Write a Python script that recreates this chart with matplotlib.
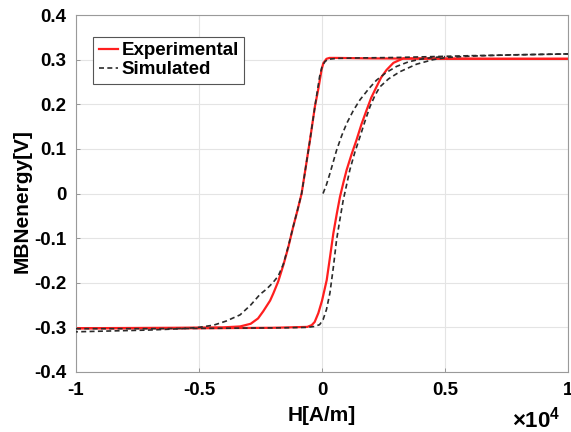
import matplotlib
matplotlib.use("Agg")
import matplotlib.pyplot as plt
from matplotlib.ticker import FuncFormatter

plt.rcParams['font.family'] = ['Liberation Sans', 'DejaVu Sans']
plt.rcParams['font.weight'] = 'bold'
plt.rcParams['mathtext.fontset'] = 'custom'
plt.rcParams['mathtext.rm'] = 'Liberation Sans'
plt.rcParams['mathtext.bf'] = 'Liberation Sans:bold'

# H in units of 1e4 A/m, MBN energy in V
# measured loop: descending branch (from +H to -H)
exp_desc_h = [1.0, 0.5, 0.2, 0.06, 0.03, 0.018, 0.005, -0.002, -0.015, -0.029, -0.049,
              -0.066, -0.083, -0.1, -0.117, -0.137, -0.157, -0.178, -0.198, -0.211,
              -0.225, -0.239, -0.26, -0.29, -0.333, -0.4, -0.6, -1.0]
exp_desc_v = [0.302, 0.302, 0.303, 0.304, 0.304, 0.302, 0.292, 0.277, 0.235, 0.195, 0.12,
              0.06, 0.0, -0.038, -0.074, -0.12, -0.16, -0.197, -0.224, -0.24,
              -0.252, -0.264, -0.28, -0.292, -0.298, -0.3, -0.301, -0.302]
# measured loop: ascending branch (from -H to +H)
exp_asc_h = [-1.0, -0.5, -0.2, -0.06, -0.042, -0.03, -0.015, 0.0, 0.019, 0.033, 0.046,
             0.06, 0.073, 0.087, 0.1, 0.12, 0.14, 0.16, 0.181, 0.2, 0.221, 0.24,
             0.262, 0.29, 0.33, 0.45, 0.7, 1.0]
exp_asc_v = [-0.302, -0.302, -0.301, -0.299, -0.295, -0.288, -0.268, -0.24, -0.194, -0.14, -0.089,
             -0.045, -0.007, 0.025, 0.053, 0.088, 0.12, 0.155, 0.187, 0.215, 0.239, 0.26,
             0.277, 0.293, 0.303, 0.303, 0.302, 0.302]

# model: initial magnetisation curve
sim_init_h = [0.004, 0.018, 0.032, 0.045, 0.059, 0.08, 0.1, 0.127, 0.154, 0.19, 0.221,
              0.26, 0.303, 0.35, 0.397, 0.45, 0.5]
sim_init_v = [0.0, 0.02, 0.045, 0.07, 0.097, 0.13, 0.157, 0.186, 0.21, 0.235, 0.254,
              0.271, 0.285, 0.295, 0.301, 0.305, 0.307]
# model: descending branch
sim_desc_h = [1.0, 0.8, 0.6, 0.45, 0.3, 0.15, 0.06, 0.025, 0.012, 0.0, -0.01, -0.029, -0.049,
              -0.066, -0.083, -0.1, -0.117, -0.137, -0.157, -0.178, -0.2, -0.225, -0.252,
              -0.29, -0.333, -0.39, -0.44, -0.5, -0.57, -0.7, -0.85, -1.0]
sim_desc_v = [0.313, 0.311, 0.309, 0.307, 0.305, 0.304, 0.303, 0.301, 0.296, 0.285, 0.262, 0.195, 0.12,
              0.06, 0.0, -0.038, -0.074, -0.118, -0.158, -0.185, -0.2, -0.214, -0.226,
              -0.25, -0.272, -0.286, -0.295, -0.3, -0.303, -0.306, -0.308, -0.31]
# model: ascending branch
sim_asc_h = [-1.0, -0.7, -0.4, -0.15, -0.06, -0.03, -0.01, 0.004, 0.018, 0.032, 0.046,
             0.059, 0.072, 0.086, 0.1, 0.113, 0.133, 0.154, 0.175, 0.195, 0.215, 0.235,
             0.27, 0.316, 0.384, 0.45, 0.505, 0.6, 0.775, 1.0]
sim_asc_v = [-0.303, -0.303, -0.302, -0.301, -0.3, -0.298, -0.294, -0.283, -0.26, -0.223, -0.165,
             -0.104, -0.06, -0.015, 0.02, 0.053, 0.092, 0.127, 0.163, 0.195, 0.22, 0.239,
             0.257, 0.273, 0.29, 0.3, 0.305, 0.308, 0.311, 0.313]

fig = plt.figure(figsize=(5.71, 4.32), dpi=100)
ax = fig.add_axes([0.133, 0.139, 0.862, 0.826])

red = '#ff1f1f'
dash = '#2b2b2b'
ax.plot(exp_desc_h, exp_desc_v, color=red, lw=1.6, label='Experimental', zorder=2)
ax.plot(exp_asc_h, exp_asc_v, color=red, lw=1.6, zorder=2)
ax.plot(sim_desc_h, sim_desc_v, color=dash, lw=1.2, ls=(0, (3, 2)), label='Simulated', zorder=3)
ax.plot(sim_asc_h, sim_asc_v, color=dash, lw=1.2, ls=(0, (3, 2)), zorder=3)
ax.plot(sim_init_h, sim_init_v, color=dash, lw=1.2, ls=(0, (3, 2)), zorder=3)

ax.set_xlim(-1, 1)
ax.set_ylim(-0.4, 0.4)
ax.set_xticks([-1, -0.5, 0, 0.5, 1])
ax.set_yticks([-0.4, -0.3, -0.2, -0.1, 0, 0.1, 0.2, 0.3, 0.4])
fmt = FuncFormatter(lambda v, p: f'{v:g}')
ax.xaxis.set_major_formatter(fmt)
ax.yaxis.set_major_formatter(fmt)
ax.tick_params(direction='in', length=3, width=0.6, color='#888888',
               labelsize=13.5)
ax.tick_params(axis='x', pad=7)
ax.tick_params(axis='y', pad=7)
for lab in ax.get_xticklabels() + ax.get_yticklabels():
    lab.set_fontweight('bold')
ax.grid(True, color='#e4e4e4', lw=0.8)
ax.set_axisbelow(True)
for s in ax.spines.values():
    s.set_color('#9a9a9a')
    s.set_linewidth(0.8)

ax.set_xlabel('H[A/m]', fontsize=15, fontweight='bold')
ax.set_ylabel('MBNenergy[V]', fontsize=15, fontweight='bold')
ax.xaxis.set_label_coords(0.5, -0.123)
ax.yaxis.set_label_coords(-0.11, 0.48)
ax.xaxis.label.set_va('center')
ax.yaxis.label.set_va('center')
ax.text(0.984, -0.134, r'$\times\mathbf{10^4}$', transform=ax.transAxes,
        ha='right', va='center', fontsize=16)

leg = ax.legend(loc='upper left', bbox_to_anchor=(0.035, 0.94), borderaxespad=0,
                fontsize=13.5, handlelength=1.0, handletextpad=0.2,
                borderpad=0.3, labelspacing=0.1, fancybox=False, framealpha=1)
leg.get_frame().set_edgecolor('#555555')
leg.get_frame().set_linewidth(0.8)
for t in leg.get_texts():
    t.set_fontweight('bold')

fig.savefig('out.png', dpi=100)
